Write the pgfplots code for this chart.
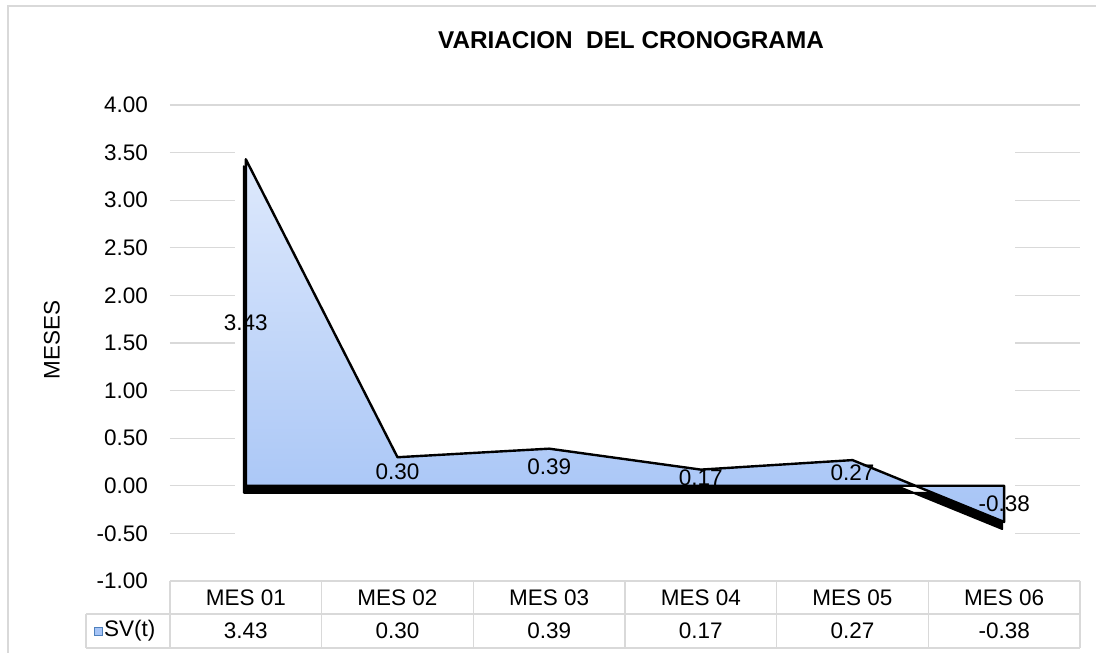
\documentclass[border=0pt]{standalone}
\usepackage{pgfplots}
\pgfplotsset{compat=1.18}
\usepackage{pgfplotstable}
\usepackage{fontspec}
\setmainfont{Liberation Sans}

\definecolor{gridgray}{HTML}{D9D9D9}
\definecolor{areatop}{HTML}{DEE9FC}
\definecolor{areabot}{HTML}{A6C4F6}
\definecolor{keyedge}{HTML}{4F81BD}

% SV(t) por mes
\pgfplotstableread{
x y
0 3.43
1 0.30
2 0.39
3 0.17
4 0.27
5 -0.38
}\sv

\begin{document}
\begin{tikzpicture}[font=\fontsize{22.5}{27}\selectfont]
\useasboundingbox (0pt,0pt) rectangle (1096pt,653pt);
\draw[gridgray, line width=1.2pt] (8pt,-5pt) -- (8pt,647pt) -- (1105pt,647pt);
\begin{axis}[
  at={(170pt,72pt)}, anchor=south west, scale only axis,
  width=910pt, height=476pt,
  font=\fontsize{22.5}{27}\selectfont,
  xmin=-0.5, xmax=5.5, ymin=-1, ymax=4,
  ytick={-1,-0.5,0,0.5,1,1.5,2,2.5,3,3.5,4},
  yticklabel style={/pgf/number format/fixed, /pgf/number format/fixed zerofill,
    /pgf/number format/precision=2, anchor=east, inner sep=0pt, xshift=-22pt},
  /pgf/number format/assume math mode=true,
  major tick length=0, axis line style={draw=none},
  ymajorgrids, grid style={gridgray, line width=1.2pt},
  xtick={0,1,2,3,4,5},
  xticklabels={MES 01,MES 02,MES 03,MES 04,MES 05,MES 06},
  xticklabel style={anchor=center, inner sep=0pt, yshift=-17pt},
  extra x ticks={0,1,2,3,4,5},
  extra x tick labels={3.43,0.30,0.39,0.17,0.27,-0.38},
  extra x tick style={xticklabel style={yshift=-33pt}},
  every axis y label/.style={at={(axis description cs:-0.1297,0.506)}, rotate=90, anchor=center},
  ylabel={MESES},
  title={\fontsize{24.3}{28}\selectfont\bfseries VARIACION\ \ DEL CRONOGRAMA},
  title style={at={(axis description cs:0.5066,1.124)}, anchor=center},
]
% las lineas de la rejilla quedan ocultas detras de la serie
\fill[white] (axis cs:-0.07,-0.6) rectangle (axis cs:5.07,3.6);
% sombra
\addplot[draw=black, fill=black, line width=2pt, line join=round, xshift=-2pt, yshift=-7pt, mark=none]
  table[x=x, y=y] {\sv} \closedcycle;
\addplot[draw=black, line width=2.4pt, line join=round, top color=areatop, bottom color=areabot, mark=none]
  table[x=x, y=y] {\sv} \closedcycle;
% etiquetas de datos a media altura
\addplot[draw=none, mark=none, nodes near coords, point meta=explicit,
  every node near coord/.append style={anchor=center, inner sep=0pt,
    /pgf/number format/fixed, /pgf/number format/fixed zerofill, /pgf/number format/precision=2}]
  table[x=x, y expr=\thisrow{y}/2, meta=y] {\sv};
\end{axis}
% tabla de datos
\draw[gridgray, line width=1.2pt] (170pt,72pt) -- (1080pt,72pt) (86pt,39pt) -- (1080pt,39pt)
  (86pt,5pt) -- (1080pt,5pt) (86pt,39pt) -- (86pt,5pt);
\foreach \i in {0,...,6} \draw[gridgray, line width=1.2pt] ({170pt+151.667pt*\i},72pt) -- ({170pt+151.667pt*\i},5pt);
\filldraw[fill=areabot, draw=keyedge, line width=0.8pt] (94pt,18pt) rectangle (102pt,26pt);
\node[anchor=west, inner sep=0pt] at (104pt,22pt) {SV(t)};
\end{tikzpicture}
\end{document}
